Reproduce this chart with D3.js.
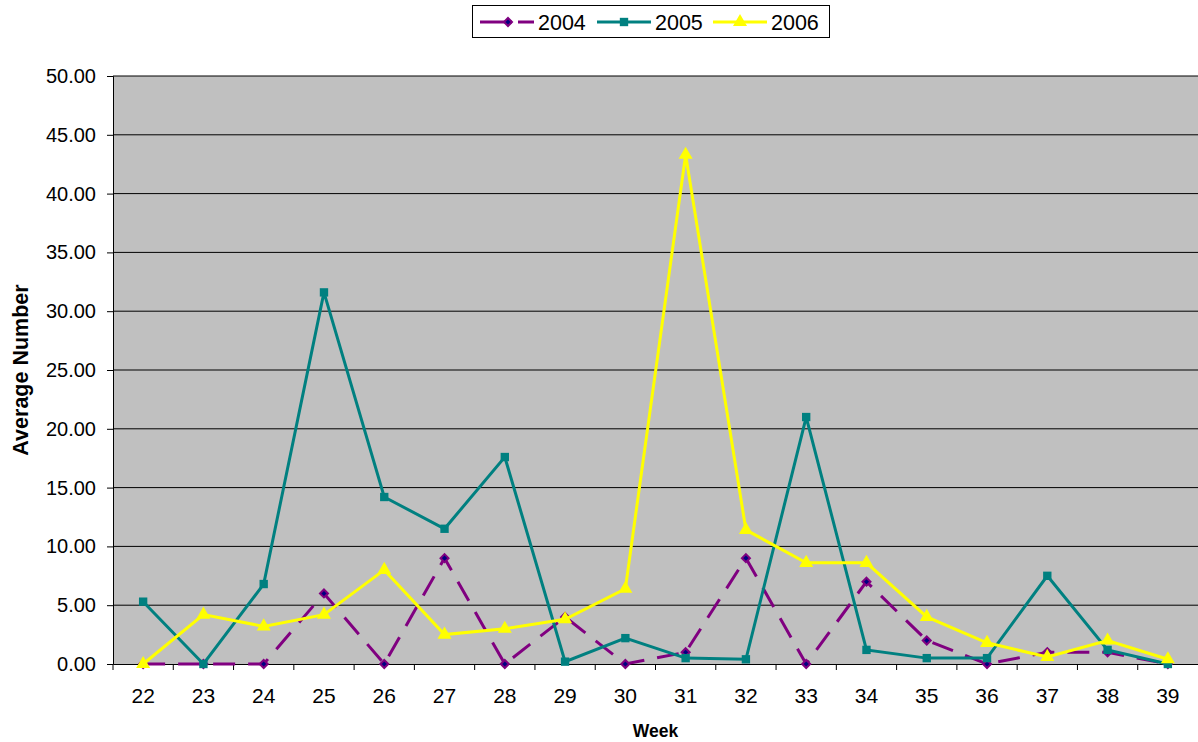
<!DOCTYPE html>
<html><head><meta charset="utf-8">
<script src="https://cdn.jsdelivr.net/npm/d3@7"></script>
<style>body{margin:0;background:#fff}svg{display:block}text{font-family:"Liberation Sans",Arial,sans-serif}</style>
</head><body><svg id="c" width="1198" height="742"></svg>
<script>
const weeks = [22,23,24,25,26,27,28,29,30,31,32,33,34,35,36,37,38,39];
const v2004 = [0,0,0,6,0,9,0,4,0,1,9,0,7,2,0,1,1,0];
const v2005 = [5.3,0,6.8,31.6,14.2,11.5,17.6,0.2,2.2,0.5,0.4,21.0,1.2,0.5,0.5,7.5,1.2,0];
const v2006 = [0,4.2,3.2,4.2,8.0,2.5,3.0,3.8,6.4,43.3,11.4,8.6,8.6,4.0,1.8,0.6,2.0,0.4];
const yTicks = [0,5,10,15,20,25,30,35,40,45,50];
const seriesNames = ["2004","2005","2006"];

const series = [
  {name:seriesNames[0], values:v2004, color:"#800080", dash:"22,13", marker:"diamond"},
  {name:seriesNames[1], values:v2005, color:"#008080", dash:null, marker:"square"},
  {name:seriesNames[2], values:v2006, color:"#FFFF00", dash:null, marker:"triangle"}
];

const svg = d3.select("#c");
const L=113, R=1198, T=76, B=664;
const x = d3.scaleBand().domain(weeks).range([L,R]);
const y = d3.scaleLinear().domain([0,50]).range([B,T]);

svg.append("rect").attr("x",L).attr("y",T).attr("width",R-L).attr("height",B-T).attr("fill","#C0C0C0");
svg.append("g").selectAll("line").data(yTicks.slice(1)).join("line")
  .attr("x1",L).attr("x2",R).attr("y1",d=>y(d)).attr("y2",d=>y(d))
  .attr("stroke","#000").attr("stroke-width",1);

const yAxis = svg.append("g").attr("transform",`translate(${L},0)`)
  .call(d3.axisLeft(y).tickValues(yTicks).tickFormat(d3.format(".2f")).tickSize(6).tickPadding(11));
yAxis.select(".domain").attr("stroke","#000");
yAxis.selectAll("text").attr("font-size",20).attr("fill","#000");

const xAxis = svg.append("g").attr("transform",`translate(0,${B})`)
  .call(d3.axisBottom(x).tickSize(0).tickPadding(24));
xAxis.select(".domain").attr("stroke","#000");
xAxis.selectAll("text").attr("font-size",21).attr("fill","#000");
xAxis.append("g").selectAll("line").data(weeks).join("line")
  .attr("x1",d=>x(d)).attr("x2",d=>x(d)).attr("y1",0).attr("y2",6).attr("stroke","#000");

svg.append("text").attr("x",(L+R)/2).attr("y",737).attr("text-anchor","middle")
  .attr("font-size",17.5).attr("font-weight","bold").text("Week");
svg.append("text").attr("transform",`translate(28,${(T+B)/2}) rotate(-90)`).attr("text-anchor","middle")
  .attr("font-size",21.5).attr("font-weight","bold").text("Average Number");

const cx = d=>x(d)+x.bandwidth()/2;
const diamondPath = "M0,-4L4,0L0,4L-4,0Z";
const symbolFor = m => m==="diamond"? diamondPath
  : m==="square"? d3.symbol().type(d3.symbolSquare).size(70)()
  : d3.symbol().type(d3.symbolTriangle).size(85)();

series.forEach(s=>{
  const line = d3.line().x((d,i)=>cx(weeks[i])).y(d=>y(d));
  svg.append("path").datum(s.values).attr("d",line).attr("fill","none")
    .attr("stroke",s.color).attr("stroke-width",3).attr("stroke-dasharray",s.dash);
  svg.append("g").selectAll("path").data(s.values).join("path")
    .attr("d",symbolFor(s.marker))
    .attr("transform",(d,i)=>`translate(${cx(weeks[i])},${y(d)})`)
    .attr("fill", s.marker==="diamond" ? "#000080" : s.color)
    .attr("stroke", s.marker==="diamond" ? s.color : "none").attr("stroke-width",2);
});

// legend
const lg = svg.append("g");
lg.append("rect").attr("x",472.5).attr("y",5.5).attr("width",357).attr("height",32)
  .attr("fill","#fff").attr("stroke","#000").attr("stroke-width",1);
const lx = [480,597,713];
series.forEach((s,i)=>{
  const g = lg.append("g").attr("transform",`translate(${lx[i]},22)`);
  g.append("line").attr("x1",0).attr("x2",54).attr("y1",0).attr("y2",0)
    .attr("stroke",s.color).attr("stroke-width",3).attr("stroke-dasharray",s.dash?"32,6":null);
  g.append("path").attr("d",symbolFor(s.marker)).attr("transform",`translate(${s.dash?28:27},0)`)
    .attr("fill", s.marker==="diamond" ? "#000080" : s.color)
    .attr("stroke", s.marker==="diamond" ? s.color : "none").attr("stroke-width",2);
  g.append("text").attr("x",58).attr("y",8).attr("font-size",21.5).text(s.name);
});
</script></body></html>
